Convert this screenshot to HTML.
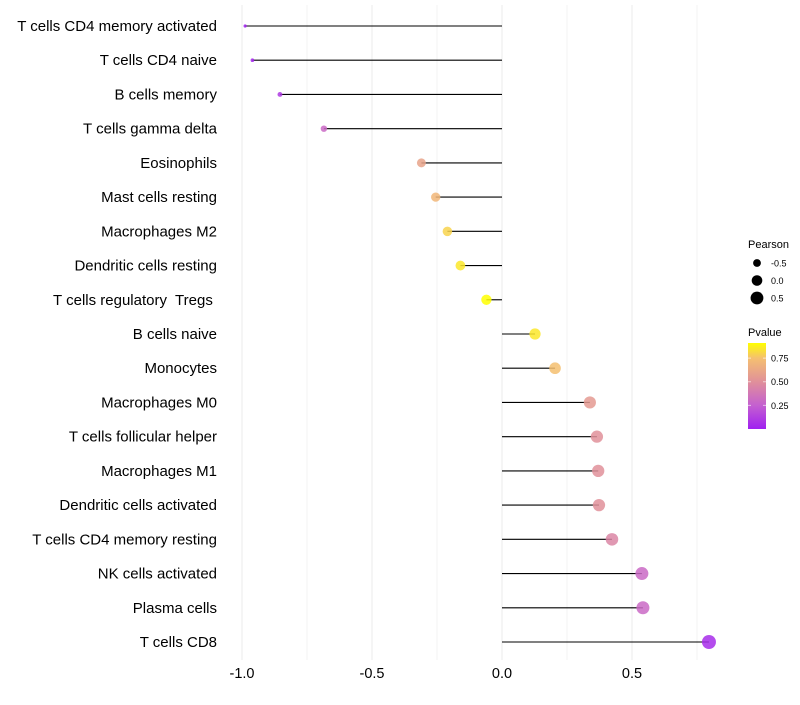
<!DOCTYPE html>
<html><head><meta charset="utf-8"><style>
body{margin:0;background:#fff;font-family:"Liberation Sans",sans-serif}
svg text{font-family:"Liberation Sans",sans-serif;white-space:pre}
</style></head><body>
<svg id="chart" width="800" height="700"></svg>
<script>
const categories=["T cells CD4 memory activated","T cells CD4 naive","B cells memory","T cells gamma delta","Eosinophils","Mast cells resting","Macrophages M2","Dendritic cells resting","T cells regulatory  Tregs ","B cells naive","Monocytes","Macrophages M0","T cells follicular helper","Macrophages M1","Dendritic cells activated","T cells CD4 memory resting","NK cells activated","Plasma cells","T cells CD8"];
const pearson=[-0.988,-0.96,-0.854,-0.685,-0.31,-0.255,-0.21,-0.16,-0.06,0.127,0.204,0.338,0.365,0.37,0.373,0.423,0.538,0.542,0.796];
const pvalue=[0.0,0.02,0.1,0.3,0.6,0.7,0.8,0.85,0.91,0.85,0.75,0.55,0.5,0.5,0.5,0.45,0.3,0.3,0.05];
const xTicks=[-1.0,-0.5,0.0,0.5];
const xTickLabels=["-1.0","-0.5","0.0","0.5"];
const sizeLegend=[-0.5,0.0,0.5];
const colorTicks=[0.25,0.5,0.75];

const NS="http://www.w3.org/2000/svg";
const svg=document.getElementById('chart');
function mk(t,a,p){const e=document.createElementNS(NS,t);for(const k in a)e.setAttribute(k,a[k]);(p||svg).appendChild(e);return e;}
const x=v=>502+v*260;
const y=i=>26+i*(642-26)/(categories.length-1);
const rad=v=>Math.sqrt(Math.max(0.5,28.2+26*v));
const stops=[[0,[160,32,240]],[0.25,[196,96,208]],[0.5,[224,144,154]],[0.75,[245,192,112]],[0.91,[255,255,0]]];
function col(p){for(let i=1;i<stops.length;i++){if(p<=stops[i][0]){const a=stops[i-1],b=stops[i],t=(p-a[0])/(b[0]-a[0]);const c=a[1].map((v,j)=>Math.round(v+(b[1][j]-v)*t));return `rgb(${c})`;}}return 'rgb(255,255,0)';}
const cy=p=>429-p/0.91*86;

// grid (vertical only)
for(let k=-4;k<=3;k++){const v=k/4;const g=mk('line',{x1:x(v),x2:x(v),y1:5,y2:660,stroke:'#ebebeb','stroke-width':k%2===0?1:0.6});

}
// lollipops
categories.forEach((c,i)=>{
const l=mk('line',{x1:x(0),x2:x(pearson[i]),y1:y(i),y2:y(i),stroke:'#000','stroke-width':1.1});


const ci=mk('circle',{cx:x(pearson[i]),cy:y(i),r:rad(pearson[i]),fill:col(pvalue[i]),'fill-opacity':0.85});


const t=mk('text',{x:217,y:y(i)+5,'text-anchor':'end','font-size':15,fill:'#000'});t.textContent=c;


});
xTicks.forEach((v,i)=>{const t=mk('text',{x:x(v),y:678,'text-anchor':'middle','font-size':14.5,fill:'#000'});t.textContent=xTickLabels[i];

});
// size legend
let t=mk('text',{x:748,y:248,'font-size':11,fill:'#000'});t.textContent='Pearson';


sizeLegend.forEach((v,i)=>{const yy=263+i*17.5;
const c=mk('circle',{cx:757,cy:yy,r:rad(v),fill:'#000'});


const tt=mk('text',{x:771,y:yy+3.5,'font-size':9,fill:'#000'});tt.textContent=v.toFixed(1);

});
// color legend
t=mk('text',{x:748,y:336,'font-size':11,fill:'#000'});t.textContent='Pvalue';


const defs=mk('defs',{});const lg=mk('linearGradient',{id:'pg',x1:0,y1:1,x2:0,y2:0},defs);
stops.forEach(s=>mk('stop',{offset:(s[0]/0.91).toFixed(3),'stop-color':`rgb(${s[1]})`},lg));
const bar=mk('rect',{x:748,y:343,width:18,height:86,fill:'url(#pg)'});


colorTicks.forEach(v=>{mk('line',{x1:748,x2:751,y1:cy(v),y2:cy(v),stroke:'#fff','stroke-opacity':0.6});mk('line',{x1:763,x2:766,y1:cy(v),y2:cy(v),stroke:'#fff','stroke-opacity':0.6});
const tt=mk('text',{x:771,y:cy(v)+3.5,'font-size':9,fill:'#000'});tt.textContent=v.toFixed(2);

});
</script>
</body></html>
